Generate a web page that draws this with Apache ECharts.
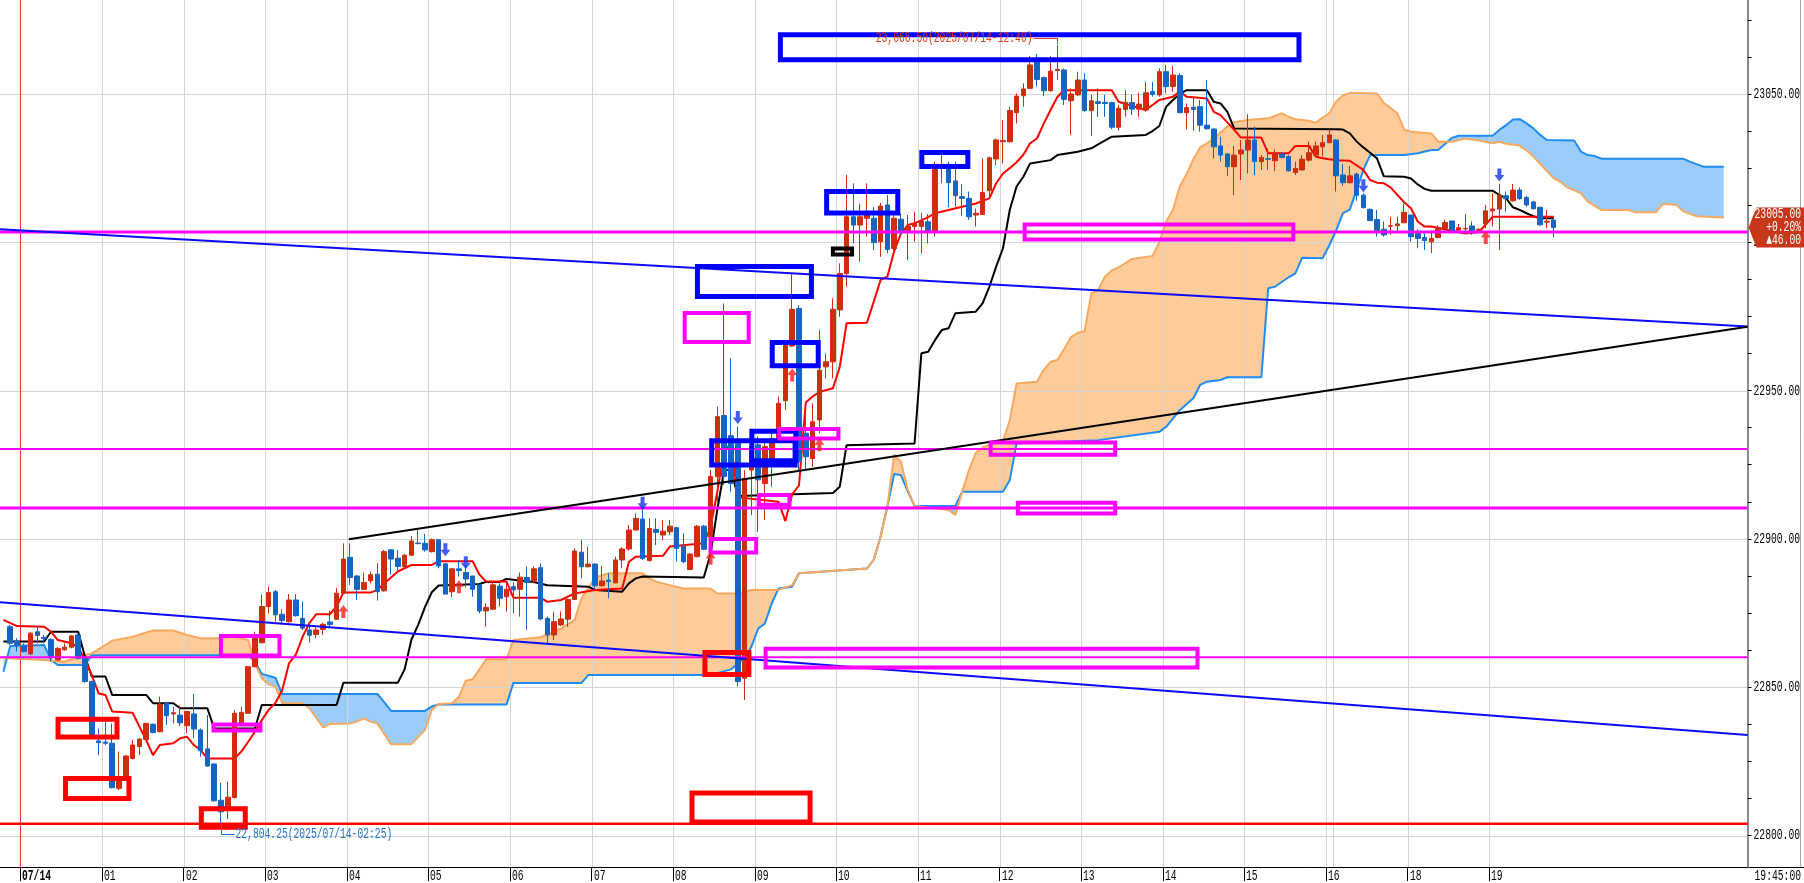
<!DOCTYPE html>
<html>
<head>
<meta charset="utf-8">
<script src="https://cdn.jsdelivr.net/npm/echarts@6/dist/echarts.min.js"></script>
<style>
html, body { margin: 0; padding: 0; background: #fff; }
#chart { width: 1804px; height: 883px; }
</style>
</head>
<body>
<div id="chart"></div>
<script>
// 5 minute bars, index 0 = 07/14 00:00
const hourBars = [0, 12, 24, 36, 48, 60, 72, 84, 96, 108, 120, 132, 144, 156, 168, 180, 192, 204, 216]
const hourNames = ['07/14', '01', '02', '03', '04', '05', '06', '07', '08', '09', '10', '11', '12', '13', '14', '15', '16', '18', '19']
const extraGridBars = [193]
const priceLabels = [22800, 22850, 22900, 22950, 23000, 23050]
const priceTicks = [22800, 22812.5, 22825, 22837.5, 22850, 22862.5, 22875, 22887.5, 22900, 22912.5, 22925, 22937.5,
  22950, 22962.5, 22975, 22987.5, 23000, 23012.5, 23025, 23037.5, 23050, 23062.5, 23075]

// [open, close, low, high], first row is bar -2
const candles = [
  [22870.4, 22864.8, 22864.2, 22871.0], [22865.6, 22864.2, 22862.0, 22866.5],
  [22863.9, 22862.0, 22861.7, 22864.8], [22861.2, 22868.2, 22860.9, 22868.7], [22868.7, 22867.4, 22864.8, 22870.4],
  [22866.8, 22866.4, 22864.8, 22867.6], [22866.1, 22860.3, 22858.6, 22866.5], [22859.2, 22863.1, 22858.9, 22863.5],
  [22862.6, 22863.5, 22862.3, 22864.8], [22863.5, 22867.3, 22863.1, 22867.6], [22867.6, 22859.7, 22859.4, 22867.9],
  [22859.7, 22851.9, 22851.5, 22860.3], [22851.9, 22833.9, 22833.6, 22852.2], [22831.9, 22831.3, 22827.1, 22836.1],
  [22831.5, 22831.1, 22830.5, 22838.4], [22831.1, 22816.1, 22815.9, 22837.8], [22815.9, 22819.3, 22815.3, 22828.3],
  [22819.3, 22826.8, 22818.7, 22827.1], [22826.0, 22830.5, 22825.7, 22832.2], [22830.0, 22832.5, 22827.1, 22832.8],
  [22832.4, 22837.8, 22832.2, 22838.0], [22837.5, 22834.7, 22834.5, 22837.8], [22835.0, 22844.3, 22834.8, 22846.8],
  [22844.6, 22840.4, 22837.3, 22845.1], [22841.0, 22841.4, 22837.8, 22843.4], [22840.6, 22838.0, 22836.9, 22843.8],
  [22837.0, 22841.8, 22834.5, 22842.0], [22841.0, 22835.9, 22832.8, 22847.7], [22835.6, 22828.6, 22826.6, 22836.1],
  [22829.2, 22823.4, 22823.2, 22840.6], [22824.1, 22811.7, 22811.4, 22824.3], [22811.9, 22808.0, 22804.25, 22817.8],
  [22808.4, 22812.9, 22805.5, 22818.2], [22812.8, 22841.2, 22812.5, 22842.3], [22837.6, 22841.5, 22837.3, 22843.4],
  [22841.2, 22856.9, 22841.0, 22857.2], [22856.9, 22867.6, 22856.7, 22868.7], [22865.0, 22877.2, 22864.8, 22881.1],
  [22877.2, 22881.9, 22874.9, 22883.9], [22882.2, 22874.4, 22872.1, 22882.8], [22874.6, 22872.5, 22871.6, 22876.3],
  [22872.1, 22879.4, 22871.8, 22881.4], [22879.4, 22874.1, 22873.8, 22881.4], [22873.2, 22869.9, 22869.3, 22878.9],
  [22869.3, 22867.5, 22865.0, 22871.6], [22867.8, 22869.3, 22866.5, 22870.7], [22869.5, 22871.2, 22867.6, 22871.8],
  [22872.0, 22871.1, 22869.9, 22875.8], [22872.9, 22881.7, 22872.7, 22883.4], [22881.7, 22893.2, 22881.4, 22898.5],
  [22893.8, 22887.0, 22884.5, 22898.5], [22887.5, 22883.0, 22879.4, 22887.9], [22883.0, 22885.3, 22882.8, 22888.6],
  [22885.9, 22887.9, 22885.0, 22889.0], [22888.1, 22882.2, 22879.2, 22891.8], [22882.5, 22895.7, 22882.2, 22896.3],
  [22896.3, 22893.2, 22887.9, 22896.5], [22893.5, 22890.7, 22889.5, 22896.3], [22890.7, 22894.5, 22890.4, 22894.9],
  [22894.5, 22899.3, 22894.3, 22901.0], [22898.6, 22898.4, 22898.2, 22903.0], [22898.5, 22896.3, 22895.7, 22901.7],
  [22895.7, 22899.7, 22895.4, 22900.2], [22899.7, 22890.9, 22890.1, 22899.9], [22891.6, 22881.4, 22881.4, 22891.8],
  [22882.2, 22889.9, 22880.5, 22890.1], [22889.9, 22889.3, 22887.3, 22892.9], [22888.7, 22886.5, 22883.7, 22891.2],
  [22887.5, 22883.0, 22880.5, 22887.5], [22884.5, 22875.7, 22874.9, 22884.5], [22875.7, 22876.9, 22870.4, 22878.3],
  [22876.3, 22884.5, 22876.0, 22885.6], [22884.1, 22880.0, 22877.2, 22885.0], [22880.5, 22883.0, 22875.5, 22885.6],
  [22883.9, 22882.8, 22874.9, 22885.3], [22883.0, 22887.1, 22873.8, 22888.7], [22887.0, 22885.3, 22869.3, 22890.7],
  [22885.8, 22889.9, 22885.0, 22890.7], [22890.3, 22873.0, 22872.6, 22891.8], [22873.2, 22867.6, 22864.8, 22873.8],
  [22867.6, 22872.1, 22865.9, 22875.5], [22871.0, 22873.0, 22870.6, 22875.5], [22872.9, 22879.6, 22870.4, 22879.9],
  [22879.6, 22895.9, 22879.4, 22896.8], [22895.5, 22890.6, 22886.7, 22899.6], [22890.6, 22891.5, 22890.4, 22897.4],
  [22891.5, 22884.2, 22882.8, 22891.8], [22884.2, 22885.8, 22883.9, 22890.9], [22886.1, 22885.6, 22880.0, 22888.4],
  [22885.2, 22892.9, 22885.0, 22894.0], [22892.9, 22896.6, 22890.1, 22897.2], [22896.6, 22903.0, 22896.0, 22904.7],
  [22903.0, 22906.9, 22902.8, 22908.6], [22906.7, 22893.4, 22892.9, 22910.3], [22892.7, 22903.5, 22892.3, 22906.9],
  [22903.2, 22902.2, 22897.9, 22906.9], [22901.3, 22902.6, 22899.6, 22906.4], [22902.4, 22904.3, 22901.3, 22906.4],
  [22903.8, 22896.8, 22892.3, 22904.1], [22897.6, 22892.3, 22891.8, 22901.9], [22889.7, 22894.9, 22889.5, 22895.1],
  [22894.0, 22904.3, 22893.8, 22904.7], [22904.3, 22896.5, 22896.2, 22904.7], [22900.7, 22921.0, 22897.4, 22923.2],
  [22921.0, 22941.2, 22912.0, 22944.6], [22941.6, 22921.0, 22918.2, 22979.4], [22934.8, 22918.7, 22915.9, 22960.9],
  [22932.8, 22851.9, 22850.2, 22937.8], [22853.0, 22920.4, 22845.7, 22923.2], [22923.2, 22931.1, 22908.0, 22932.2],
  [22931.7, 22919.9, 22902.4, 22934.5], [22918.7, 22931.1, 22906.4, 22933.9], [22926.6, 22933.9, 22917.6, 22936.7],
  [22933.9, 22945.7, 22933.3, 22948.0], [22946.6, 22965.4, 22943.5, 22966.0], [22965.0, 22977.4, 22964.8, 22989.5],
  [22977.7, 22926.0, 22923.2, 22978.8], [22935.6, 22927.7, 22923.2, 22942.3], [22927.1, 22939.5, 22924.3, 22945.7],
  [22940.1, 22956.9, 22935.6, 22970.4], [22958.0, 22959.7, 22954.1, 22962.5], [22959.7, 22977.4, 22954.1, 22981.1],
  [22977.2, 22989.5, 22974.9, 22992.9], [22989.5, 23008.6, 22985.0, 23022.7], [23008.6, 23005.8, 22999.6, 23019.9],
  [23005.8, 23008.6, 22993.5, 23013.1], [23008.1, 23009.2, 23001.9, 23019.9], [23008.1, 22999.9, 22997.4, 23012.0],
  [23000.2, 23012.2, 22995.1, 23013.3], [23012.6, 22997.6, 22996.3, 23015.9], [22997.9, 23008.1, 22996.3, 23009.8],
  [23007.8, 23003.9, 23002.4, 23009.8], [23003.9, 23005.3, 22994.0, 23009.2], [23005.3, 23006.4, 23000.2, 23010.3],
  [23005.3, 23007.2, 22996.3, 23010.0], [23006.9, 23003.9, 22999.6, 23009.5], [23003.6, 23026.3, 23001.9, 23027.2],
  [23025.5, 23026.3, 23019.9, 23029.4], [23026.3, 23020.1, 23011.8, 23027.2], [23020.7, 23015.7, 23012.0, 23027.2],
  [23015.4, 23014.8, 23008.9, 23019.6], [23014.8, 23008.6, 23007.5, 23017.1], [23009.2, 23009.8, 23005.3, 23011.4],
  [23009.4, 23016.8, 23009.2, 23028.3], [23017.4, 23028.5, 23015.4, 23028.9], [23028.1, 23034.5, 23026.0, 23035.0],
  [23033.9, 23034.3, 23026.6, 23041.2], [23033.9, 23044.4, 23033.6, 23045.7], [23043.7, 23049.3, 23040.1, 23050.2],
  [23049.4, 23051.7, 23045.7, 23053.6], [23051.9, 23059.8, 23051.7, 23062.8], [23062.0, 23054.9, 23052.5, 23063.5],
  [23055.5, 23051.1, 23049.3, 23055.9], [23051.1, 23057.7, 23050.8, 23062.8], [23057.9, 23058.3, 23054.7, 23066.5],
  [23058.1, 23048.2, 23046.3, 23058.6], [23047.7, 23050.0, 23036.2, 23051.9], [23049.7, 23054.7, 23049.3, 23057.5],
  [23054.7, 23044.4, 23044.0, 23057.0], [23044.4, 23047.7, 23035.8, 23049.7], [23047.4, 23046.8, 23042.3, 23051.9],
  [23047.2, 23046.8, 23042.3, 23049.7], [23047.1, 23038.8, 23038.1, 23047.4], [23038.8, 23045.2, 23037.6, 23046.3],
  [23044.8, 23047.2, 23042.3, 23051.3], [23047.1, 23044.9, 23042.9, 23049.7], [23044.9, 23046.6, 23042.3, 23050.4],
  [23044.6, 23050.4, 23044.0, 23054.1], [23050.8, 23049.9, 23049.1, 23054.1], [23049.7, 23057.5, 23049.1, 23058.6],
  [23057.5, 23052.5, 23050.2, 23059.8], [23052.5, 23056.4, 23050.8, 23059.4], [23056.2, 23043.7, 23043.5, 23057.0],
  [23043.7, 23045.4, 23038.1, 23046.8], [23045.5, 23044.8, 23037.6, 23049.1], [23045.7, 23039.5, 23037.3, 23048.0],
  [23039.5, 23038.3, 23037.9, 23054.7], [23038.2, 23032.2, 23028.3, 23038.4], [23032.5, 23029.4, 23027.2, 23035.6],
  [23029.8, 23025.5, 23022.3, 23030.0], [23025.5, 23029.4, 23015.9, 23032.5], [23029.8, 23031.1, 23021.0, 23034.5],
  [23031.1, 23034.5, 23023.2, 23043.2], [23034.5, 23027.2, 23022.7, 23039.0], [23027.2, 23028.6, 23024.4, 23029.4],
  [23028.2, 23028.0, 23024.4, 23031.7], [23027.5, 23030.0, 23024.0, 23031.3], [23029.8, 23028.6, 23028.3, 23030.5],
  [23028.9, 23024.1, 23023.8, 23029.4], [23023.5, 23024.9, 23022.7, 23027.2], [23024.4, 23028.0, 23024.2, 23029.4],
  [23027.7, 23030.2, 23027.2, 23033.9], [23029.4, 23032.5, 23028.9, 23033.9], [23032.2, 23033.6, 23028.9, 23036.2],
  [23033.6, 23036.2, 23033.4, 23038.1], [23034.5, 23022.4, 23017.1, 23034.7], [23022.7, 23020.1, 23019.0, 23026.4],
  [23020.1, 23022.4, 23019.9, 23025.7], [23023.0, 23015.9, 23014.0, 23023.5], [23015.9, 23011.7, 23011.4, 23016.5],
  [23011.1, 23007.3, 23007.2, 23011.4], [23007.7, 23003.9, 23001.9, 23010.9], [23004.4, 23002.5, 23001.9, 23007.0],
  [23005.4, 23005.6, 23002.5, 23008.6], [23005.6, 23006.2, 23003.0, 23008.6], [23006.6, 23010.1, 23006.4, 23013.1],
  [23009.2, 23001.9, 23000.2, 23009.2], [23003.0, 23001.3, 22998.0, 23004.4], [23001.6, 23000.6, 22997.4, 23003.0],
  [23000.2, 23001.3, 22996.3, 23004.1], [23001.6, 23005.0, 23001.3, 23005.8], [23004.7, 23006.7, 23004.1, 23007.7],
  [23007.2, 23003.8, 23003.6, 23007.2], [23004.1, 23004.9, 23003.2, 23006.2], [23004.5, 23004.7, 23003.0, 23009.5],
  [23005.5, 23003.8, 23002.5, 23007.0], [23003.8, 23004.4, 23003.0, 23004.6], [23006.2, 23010.6, 23004.7, 23012.6],
  [23010.6, 23011.2, 23005.3, 23016.5], [23011.2, 23015.9, 22997.4, 23019.7], [23015.7, 23014.7, 23010.3, 23017.1],
  [23014.0, 23017.6, 23013.7, 23019.7], [23017.6, 23014.7, 23014.3, 23018.5], [23015.1, 23012.6, 23012.0, 23015.6],
  [23013.6, 23011.3, 23011.1, 23014.0], [23011.8, 23005.9, 23005.5, 23012.0], [23006.8, 23007.1, 23004.7, 23010.9],
  [23007.5, 23005.0, 23001.7, 23007.7]
]
const firstBar = -2

// indicator lines, [bar, price] at the bars where they turn
const tenkan = [[-3, 22872.7], [-1, 22870.6], [3, 22870.4], [4, 22868.7], [5, 22865.9], [7, 22864.8], [8, 22863.5], [9, 22859.2], [10, 22854.1], [11, 22847.9], [12, 22847.4], [13, 22841.8], [16, 22841.4], [17, 22836.7], [18, 22832.2], [19, 22827.1], [20, 22830.5], [22, 22831.1], [23, 22832.8], [24, 22833.3], [25, 22830.5], [26, 22828.8], [27, 22826], [31, 22826], [32, 22828.3], [33, 22831.6], [34, 22835], [35, 22838.9], [36, 22842.3], [37, 22844.7], [38, 22849], [39, 22858], [40, 22861], [41, 22867], [42, 22871.6], [43, 22874.6], [45, 22874.6], [46, 22877.2], [47, 22881.9], [51, 22881.9], [52, 22882.8], [53, 22885], [54, 22887], [55, 22889], [56, 22890.1], [57, 22891.2], [60, 22891.2], [61, 22892.5], [66, 22892.5], [67, 22888], [68, 22885.6], [71, 22885.6], [72, 22880.2], [76, 22880.2], [77, 22878.8], [79, 22879.4], [81, 22881.6], [84, 22882.8], [88, 22883.3], [89, 22892.3], [90, 22894], [94, 22894.3], [95, 22897.4], [100, 22898.5], [101, 22904], [102, 22916], [103, 22930], [104, 22932], [105, 22914], [111, 22912.5], [112, 22906], [113, 22915], [114, 22918], [115, 22946], [116, 22948], [117, 22949.5], [119, 22950.8], [120, 22958], [121, 22972.7], [124, 22972.9], [125, 22980], [126, 22987.3], [127, 22988.4], [128, 22997], [129, 23003], [130, 23005.8], [131, 23006.4], [133, 23008.5], [134, 23009.8], [136, 23010.9], [138, 23012], [140, 23013.1], [142, 23014.8], [143, 23019.9], [144, 23023.2], [145, 23025], [146, 23027], [147, 23029.5], [148, 23033.4], [149, 23035], [150, 23040], [151, 23044.6], [152, 23049], [153, 23051.3], [160, 23051.3], [161, 23047.4], [165, 23044.6], [166, 23046.3], [167, 23048], [169, 23049.1], [170, 23050.8], [171, 23049.1], [174, 23048.5], [175, 23044], [176, 23042.9], [178, 23037.9], [179, 23035.3], [182, 23035.3], [183, 23030], [186, 23030], [187, 23032.5], [189, 23032.5], [190, 23028.9], [191, 23028.3], [193, 23027.7], [195, 23027.5], [197, 23024.4], [198, 23021], [199, 23020.1], [200, 23019.9], [201, 23018.5], [202, 23016], [203, 23013.5], [204, 23011.5], [205, 23007], [206, 23005.3], [207, 23005.3], [212, 23003], [214, 23003.5], [215, 23006], [216, 23008.6], [225, 23008.6]]
const kijun = [[-3, 22865.4], [3, 22865.4], [4, 22868.7], [8, 22868.7], [9, 22860.3], [10, 22853.6], [12, 22853.6], [13, 22847.4], [18, 22847.4], [19, 22844.6], [22, 22844.6], [23, 22842.9], [27, 22842.9], [28, 22836.1], [34, 22836.1], [35, 22844], [46, 22844], [47, 22851.5], [55, 22851.5], [56, 22856], [57, 22866], [58, 22871], [59, 22877], [60, 22882], [61, 22884.3], [67, 22884.8], [68, 22885.5], [70, 22885.5], [71, 22886.5], [75, 22885.5], [77, 22884.4], [83, 22883.9], [84, 22882.8], [88, 22882.2], [89, 22885], [90, 22886.7], [91, 22887.3], [100, 22887], [101, 22895], [102, 22910], [103, 22923.2], [104, 22923.2], [105, 22914.5], [119, 22915.5], [120, 22917.6], [121, 22931.6], [131, 22932.2], [132, 22962.6], [133, 22963.1], [134, 22967], [135, 22970.4], [136, 22971], [137, 22976.1], [140, 22976.6], [141, 22979.4], [142, 22985], [143, 22991.8], [144, 22998], [145, 23010.9], [146, 23018.8], [147, 23022.1], [148, 23026.6], [151, 23027.7], [152, 23029.4], [155, 23030.5], [157, 23031.7], [158, 23033], [160, 23035.6], [165, 23036.2], [166, 23037.5], [167, 23039.2], [168, 23045.7], [169, 23048], [170, 23050], [171, 23051.3], [174, 23051.3], [175, 23047.4], [176, 23046.8], [177, 23044], [178, 23038.4], [193, 23038.1], [194, 23038], [195, 23036.7], [196, 23034], [197, 23032], [198, 23030.2], [199, 23028.3], [200, 23022.3], [203, 23022.1], [204, 23021.5], [205, 23019.5], [206, 23018], [207, 23017.4], [216, 23017.4], [217, 23016], [218, 23014.8], [219, 23011.8], [220, 23010.9], [221, 23009.8], [222, 23008.8], [223, 23008.1], [225, 23008.1]]
const spanA = [[-3, 22855.2], [-2, 22863.9], [3, 22864.2], [4, 22859.2], [5, 22857.5], [9, 22857.5], [10, 22860.8], [33, 22860.8], [34, 22858.5], [35, 22854.5], [37, 22853.2], [38, 22847.7], [52, 22847.7], [53, 22845], [54, 22842], [59, 22842], [60, 22843.5], [61, 22844.2], [71, 22844.2], [72, 22851.4], [82, 22851.4], [83, 22854.1], [101, 22854.1], [104, 22856], [106, 22860], [107, 22863.6], [108, 22869.8], [109, 22871.5], [110, 22878.3], [111, 22883.3], [113, 22883.9], [114, 22888.4], [124, 22890], [125, 22893], [126, 22900.7], [127, 22911], [128, 22921.9], [129, 22921.5], [130, 22916], [131, 22911.1], [137, 22911.1], [138, 22915.9], [144, 22915.9], [145, 22919.8], [146, 22932.2], [158, 22933.3], [167, 22936.1], [168, 22937.8], [170, 22943.4], [172, 22947.4], [173, 22951.9], [174, 22953], [176, 22953.6], [177, 22954.5], [182, 22954.5], [183, 22984.5], [184, 22985], [186, 22988.2], [187, 22989.5], [188, 22994.8], [191, 22994.6], [192, 22999], [193, 23004], [194, 23009.8], [195, 23011], [196, 23017.6], [197, 23024.4], [198, 23029.4], [203, 23029.4], [205, 23030], [207, 23031.1], [208, 23031.1], [210, 23035.2], [211, 23035.9], [216, 23035.9], [217, 23037.9], [218, 23039.5], [219, 23041.4], [220, 23041.5], [221, 23040.1], [222, 23038.4], [223, 23036.2], [224, 23034.5], [228, 23034.3], [229, 23030.6], [230, 23029.4], [231, 23029.1], [232, 23028.2], [244, 23028.2], [245, 23027.2], [247, 23025.5], [250, 23025.5]]
const spanB = [[-3, 22860.3], [-2, 22859.7], [3, 22859.2], [6, 22858.6], [8, 22860.3], [10, 22861.4], [12, 22864.2], [13, 22865.7], [16, 22867], [19, 22869.1], [22, 22869.1], [24, 22867.6], [26, 22866.5], [29, 22866.5], [31, 22867], [33, 22865.9], [34, 22858], [35, 22853], [36, 22851], [37, 22850.2], [38, 22844.6], [41, 22844.6], [42, 22842.9], [44, 22836.5], [45, 22837.6], [48, 22837.8], [49, 22838.4], [50, 22839.5], [51, 22838.4], [52, 22837.8], [54, 22830.8], [57, 22830.8], [59, 22835.6], [60, 22842.3], [61, 22844.3], [63, 22844.6], [64, 22846.8], [65, 22852.2], [66, 22852.7], [67, 22856], [68, 22859.4], [71, 22859.4], [72, 22865.9], [76, 22866.8], [79, 22869.8], [81, 22872.6], [82, 22879.9], [83, 22883.3], [84, 22887], [86, 22888.4], [91, 22888.4], [92, 22886.7], [93, 22885.6], [95, 22884.4], [97, 22883.3], [101, 22883.3], [102, 22881.6], [105, 22881.6], [106, 22882.2], [107, 22882.8], [111, 22882.8], [113, 22884.4], [114, 22888.4], [124, 22890], [125, 22893], [126, 22900.7], [127, 22910.9], [128, 22928.3], [129, 22926], [130, 22916.5], [131, 22911.1], [136, 22909.7], [137, 22908.1], [138, 22915.9], [139, 22923.2], [140, 22929], [141, 22930.8], [142, 22931.7], [144, 22933], [145, 22940], [146, 22952.4], [149, 22953], [150, 22957], [151, 22959.7], [152, 22960.3], [153, 22964], [154, 22968], [155, 22969.5], [156, 22970], [157, 22982.8], [158, 22983.9], [159, 22988.4], [160, 22990.5], [161, 22991.5], [162, 22993], [163, 22994.4], [166, 22995.4], [167, 23000], [168, 23007], [169, 23011], [170, 23018.8], [171, 23023], [172, 23028], [173, 23032], [174, 23033.4], [175, 23035], [176, 23037], [177, 23039], [178, 23040.5], [180, 23041.2], [183, 23041.8], [185, 23043.5], [186, 23042.3], [187, 23041.5], [189, 23041], [190, 23040.3], [191, 23042], [192, 23043.5], [193, 23047.5], [194, 23049.5], [195, 23050.4], [199, 23050.2], [200, 23047], [202, 23043.5], [203, 23038], [204, 23037.3], [207, 23036.7], [208, 23034], [210, 23033.9], [212, 23035], [214, 23034.3], [216, 23033.4], [217, 23033.9], [218, 23033.2], [220, 23032.6], [221, 23031], [222, 23028.9], [223, 23026.5], [224, 23024], [225, 23021.6], [226, 23020.4], [227, 23018.5], [229, 23016.5], [230, 23013.7], [232, 23010.9], [236, 23010.9], [237, 23010.1], [240, 23010.1], [241, 23012.9], [243, 23012.7], [244, 23010.5], [246, 23008.8], [250, 23008.4]]

// drawn objects
const levelsMagenta = [23003.5, 22930.3, 22910.4, 22860.1]
const levelsMagentaWidth = [3, 2, 3, 2]
const levelRed = 22804.0
const trendBlueUpper = [[-3.5, 23004.4], [253.5, 22971.6]]
const trendBlueLower = [[-3.5, 22878.6], [253.5, 22833.9]]
const trendBlack = [[47.8, 22899.9], [253.5, 22971.5]]
// [bar from, price top, bar to, price bottom]
const boxesBlue = [[110.9, 23070.8, 187.9, 23060.7], [98.7, 22992.7, 116.2, 22980.9], [109.7, 22967.1, 117.2, 22957.5],
  [117.7, 23018.0, 128.9, 23009.0], [131.7, 23031.1, 139.2, 23024.7], [100.8, 22933.9, 113.8, 22924.1], [106.7, 22937.1, 113.9, 22925.5]]
const boxesRed = [[4.67, 22840.0, 14.07, 22832.4], [5.77, 22820.1, 15.83, 22811.6], [25.74, 22809.9, 32.94, 22801.9],
  [99.8, 22862.5, 107.0, 22853.4], [97.9, 22815.2, 116.0, 22803.7]]
const boxesMagenta = [[96.9, 22976.8, 106.9, 22965.7], [28.7, 22867.9, 37.9, 22860.0], [27.6, 22838.1, 35.1, 22834.7],
  [146.9, 23006.7, 187.0, 23000.3], [110.8, 22937.7, 120.1, 22933.2], [141.9, 22933.2, 160.8, 22927.7],
  [145.9, 22912.9, 160.8, 22907.9], [107.8, 22915.5, 112.9, 22910.8], [100.7, 22900.6, 108.0, 22894.7],
  [108.8, 22863.6, 172.9, 22856.0]]
const boxesBlack = [[118.7, 22998.6, 122.1, 22995.2]]
const upArrows = [[47, 22875.5], [64, 22883.9], [101, 22893.5], [113, 22955.3], [117, 22931.7], [215, 23001.6]]
const downArrows = [[62, 22896.3], [65, 22892.0], [91, 22912.0], [105, 22940.9], [197, 23019.1], [217, 23022.7]]
const lowMark = [29, 22804.25]
const lowText = '22,804.25(2025/07/14-02:25)'
const highMark = [152, 23066.5]
const highText = '23,066.50(2025/07/14-12:40)'
const lastClose = 23005.0
const tagLines = ['23005.00', '+0.20%', '\u25B246.00']
const cursorTime = '19:45:00'

// the chart's own lettering is a narrow fixed-pitch face: a mono font squeezed sideways
const FONT = '"Liberation Mono", "DejaVu Sans Mono", monospace'
const SQUEEZE = 0.645
const barMin = -3
const barMax = 253
const categories = []
for (let b = barMin; b <= barMax; b++) categories.push(String(b))

const candleData = []
for (let b = barMin; b < firstBar; b++) candleData.push(['-', '-', '-', '-'])
candles.forEach(r => candleData.push(r))

function label(x, y, text, color, align, bold) {
  return {
    type: 'text', x: x, y: y, scaleX: SQUEEZE,
    style: { text: text, fill: color, font: (bold ? 'bold ' : '') + '15px ' + FONT, align: align, verticalAlign: 'middle' }
  }
}

function lineSeries(data, color, width, z) {
  return {
    type: 'line', xAxisIndex: 1, yAxisIndex: 0, data: data, symbol: 'none', silent: true, z: z,
    lineStyle: { color: color, width: width }
  }
}

function boxSeries(rows, color, width) {
  return {
    type: 'custom', xAxisIndex: 1, yAxisIndex: 0, z: 7, silent: true, clip: false, data: rows,
    renderItem: function(params, api) {
      const a = api.coord([api.value(0), api.value(1)])
      const b = api.coord([api.value(2), api.value(3)])
      const h = width / 2
      return {
        type: 'rect',
        shape: { x: a[0] + h, y: a[1] + h, width: b[0] - a[0] - width, height: b[1] - a[1] - width },
        style: { fill: 'none', stroke: color, lineWidth: width }
      }
    }
  }
}

function valueAt(pts, x) {
  if (x <= pts[0][0]) return pts[0][1]
  for (let i = 1; i < pts.length; i++) {
    if (x <= pts[i][0]) {
      const p = pts[i - 1]
      const q = pts[i]
      return p[1] + (q[1] - p[1]) * (x - p[0]) / (q[0] - p[0])
    }
  }
  return pts[pts.length - 1][1]
}

// fill between the two span lines, orange where spanB is on top, blue where spanA is
function cloudItem(params, api) {
  let xs = spanA.map(p => p[0]).concat(spanB.map(p => p[0]))
  xs = Array.from(new Set(xs)).sort((a, b) => a - b)
  const all = []
  for (let i = 0; i < xs.length; i++) {
    if (i > 0) {
      const x0 = xs[i - 1]
      const x1 = xs[i]
      const d0 = valueAt(spanA, x0) - valueAt(spanB, x0)
      const d1 = valueAt(spanA, x1) - valueAt(spanB, x1)
      if (d0 * d1 < 0) all.push(x0 + (x1 - x0) * d0 / (d0 - d1))
    }
    all.push(xs[i])
  }
  const top = all.map(x => api.coord([x, Math.max(valueAt(spanA, x), valueAt(spanB, x))]))
  const baseA = all.map(x => api.coord([x, valueAt(spanA, x)])).reverse()
  const baseB = all.map(x => api.coord([x, valueAt(spanB, x)])).reverse()
  return {
    type: 'group',
    children: [
      { type: 'polygon', shape: { points: top.concat(baseA) }, style: { fill: '#fecc9b' } },
      { type: 'polygon', shape: { points: top.concat(baseB) }, style: { fill: '#9ccdfa' } }
    ]
  }
}

function gridItem(params, api) {
  const cs = params.coordSys
  const ch = []
  priceLabels.forEach(v => {
    const y = Math.round(api.coord([0, v])[1]) + 0.5
    ch.push({ type: 'line', shape: { x1: cs.x, y1: y, x2: cs.x + cs.width, y2: y }, style: { stroke: '#d4d4d4', lineWidth: 1 } })
  })
  hourBars.concat(extraGridBars).forEach(b => {
    const x = Math.round(api.coord([b - 0.5, lastClose])[0]) + 0.5
    ch.push({ type: 'line', shape: { x1: x, y1: cs.y, x2: x, y2: cs.y + cs.height },
      style: { stroke: b === 0 ? '#ff2a2a' : '#d4d4d4', lineWidth: 1 } })
  })
  return { type: 'group', children: ch }
}

// axis lettering, drawn with the squeezed face
function axisTextItem(params, api) {
  const cs = params.coordSys
  const ch = []
  const right = cs.x + cs.width
  const bottom = cs.y + cs.height
  priceLabels.forEach(v => {
    ch.push(label(right + 6, api.coord([0, v])[1], v.toFixed(2), '#000', 'left', false))
  })
  hourBars.forEach((b, i) => {
    const x = Math.round(api.coord([b - 0.5, lastClose])[0]) + 2
    ch.push(label(x, bottom + 9, hourNames[i], '#000', 'left', i === 0))
  })
  ch.push(label(api.getWidth() - 3, bottom + 9, cursorTime, '#000', 'right', false))
  return { type: 'group', children: ch }
}

function notesItem(params, api) {
  const lo = api.coord(lowMark)
  const hi = api.coord(highMark)
  const lx = Math.round(lo[0]) + 0.5
  const ly = Math.round(lo[1]) + 11.5
  const hx = Math.round(hi[0]) + 0.5
  const hy = Math.round(hi[1]) - 6.5
  return {
    type: 'group',
    children: [
      { type: 'polyline', shape: { points: [[lx, lo[1] + 1], [lx, ly], [lx + 13, ly]] }, style: { fill: 'none', stroke: '#1f72cf', lineWidth: 1 } },
      label(lx + 14, ly, lowText, '#1f72cf', 'left', false),
      { type: 'polyline', shape: { points: [[hx - 24, hy], [hx, hy], [hx, hi[1] - 1]] }, style: { fill: 'none', stroke: '#e33a1c', lineWidth: 1 } },
      label(hx - 25, hy, highText, '#e33a1c', 'right', false)
    ]
  }
}

function tagItem(params, api) {
  const cs = params.coordSys
  const p = api.coord([barMax + 0.5, lastClose])
  const x0 = cs.x + cs.width + 1
  const y = p[1]
  const w = api.getWidth()
  return {
    type: 'group',
    children: [
      { type: 'polygon', shape: { points: [[x0, y], [x0 + 8, y - 20], [w, y - 20], [w, y + 20], [x0 + 8, y + 20]] }, style: { fill: '#c8371a' } },
      label(w - 3, y - 13, tagLines[0], '#fff', 'right', false),
      label(w - 3, y, tagLines[1], '#fff', 'right', false),
      label(w - 3, y + 13, tagLines[2], '#fff', 'right', false)
    ]
  }
}

const chart = echarts.init(document.getElementById('chart'), null, { renderer: 'canvas' })
const hlineSeries = levelsMagenta.map((v, i) => lineSeries([[barMin - 0.5, v], [barMax + 0.5, v]], '#ff00ff', levelsMagentaWidth[i], 6))
hlineSeries.push(lineSeries([[barMin - 0.5, levelRed], [barMax + 0.5, levelRed]], '#ff0000', 2.5, 6))

chart.setOption({
  animation: false,
  backgroundColor: '#fff',
  grid: { left: -2.63, right: 56.46, top: 0, bottom: 16, containLabel: false },
  xAxis: [
    { type: 'category', data: categories, boundaryGap: true, show: false },
    {
      type: 'value', min: barMin - 0.5, max: barMax + 0.5, position: 'bottom',
      axisLine: { show: true, onZero: false, lineStyle: { color: '#000', width: 1 } },
      axisTick: { show: true, customValues: hourBars.map(b => b - 0.5), length: 14, lineStyle: { color: '#000' } },
      axisLabel: { show: false },
      splitLine: { show: false }
    }
  ],
  yAxis: {
    type: 'value', position: 'right', min: 22789.38, max: 23081.69,
    axisLine: { show: true, onZero: false, lineStyle: { color: '#8a8a8a', width: 2 } },
    axisTick: { show: true, customValues: priceTicks, length: 4, lineStyle: { color: '#000' } },
    axisLabel: { show: false },
    splitLine: { show: false }
  },
  graphic: [
    { type: 'line', shape: { x1: 1747, y1: 867.5, x2: 1804, y2: 867.5 }, style: { stroke: '#000', lineWidth: 1 }, silent: true },
    { type: 'line', shape: { x1: 1800.5, y1: 0, x2: 1800.5, y2: 867 }, style: { stroke: '#a6a6a6', lineWidth: 1 }, silent: true }
  ],
  series: [
    { type: 'custom', xAxisIndex: 1, yAxisIndex: 0, z: 1, silent: true, clip: true, data: [[0, lastClose]], renderItem: cloudItem },
    { type: 'custom', xAxisIndex: 1, yAxisIndex: 0, z: 2, silent: true, clip: true, data: [[0, lastClose]], renderItem: gridItem },
    { type: 'custom', xAxisIndex: 1, yAxisIndex: 0, z: 2, silent: true, clip: false, data: [[0, lastClose]], renderItem: axisTextItem },
    lineSeries(spanA, '#1e8cf3', 2, 3),
    lineSeries(spanB, '#f8a95d', 2, 3),
    lineSeries(kijun, '#000000', 2, 4),
    lineSeries(tenkan, '#ff0000', 2, 4),
    {
      type: 'candlestick', xAxisIndex: 0, yAxisIndex: 0, data: candleData, barWidth: 5, z: 5, silent: true,
      itemStyle: { color: '#cf2d0c', color0: '#1565c4', borderColor: '#cf2d0c', borderColor0: '#1565c4', borderWidth: 1 }
    },
    ...hlineSeries,
    lineSeries(trendBlueUpper, '#0a0aff', 2, 6),
    lineSeries(trendBlueLower, '#0a0aff', 2, 6),
    lineSeries(trendBlack, '#000000', 2, 6),
    boxSeries(boxesBlue, '#0000ff', 5),
    boxSeries(boxesRed, '#ff0000', 5),
    boxSeries(boxesMagenta, '#ff00ff', 4),
    boxSeries(boxesBlack, '#000000', 4),
    {
      type: 'scatter', xAxisIndex: 1, yAxisIndex: 0, data: upArrows, z: 8, silent: true,
      symbol: 'path://M5 0 L10 6 L7 6 L7 12 L3 12 L3 6 L0 6 Z', symbolSize: [10, 13], itemStyle: { color: '#ff1e1e' }
    },
    {
      type: 'scatter', xAxisIndex: 1, yAxisIndex: 0, data: downArrows, z: 8, silent: true,
      symbol: 'path://M3 0 L7 0 L7 6 L10 6 L5 12 L0 6 L3 6 Z', symbolSize: [10, 13], itemStyle: { color: '#1733f0' }
    },
    { type: 'custom', xAxisIndex: 1, yAxisIndex: 0, z: 9, silent: true, clip: false, data: [[0, lastClose]], renderItem: notesItem },
    { type: 'custom', xAxisIndex: 1, yAxisIndex: 0, z: 9, silent: true, clip: false, data: [[0, lastClose]], renderItem: tagItem }
  ]
})
</script>
</body>
</html>
